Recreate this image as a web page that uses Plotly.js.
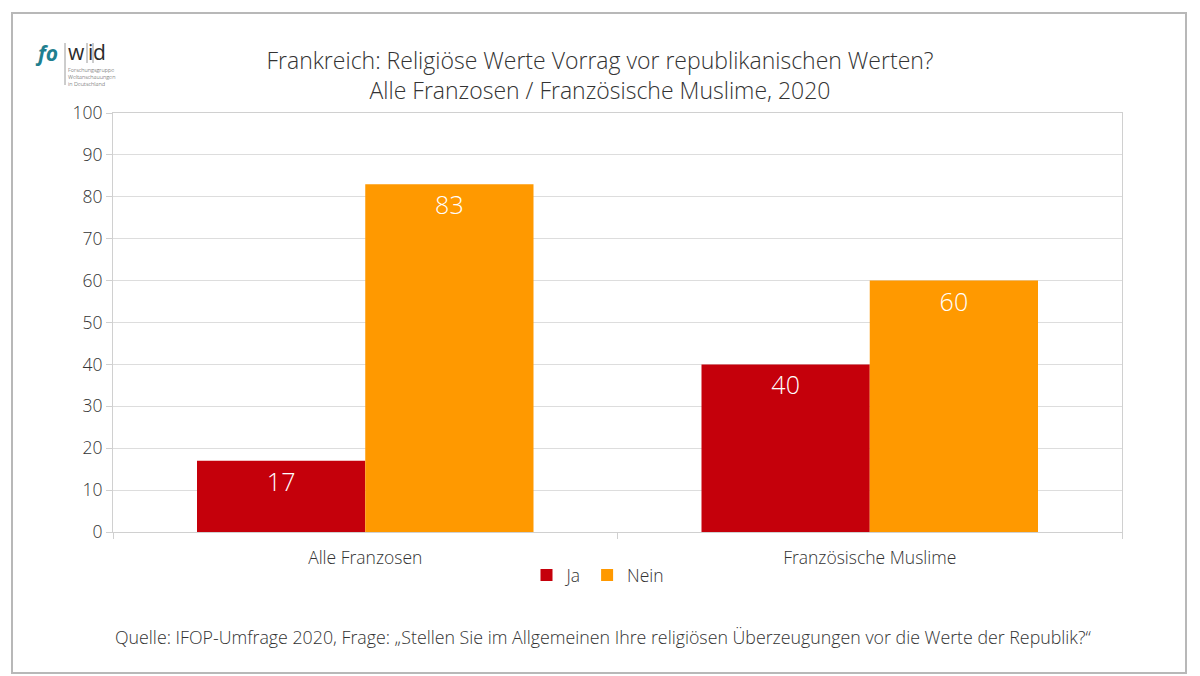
<!DOCTYPE html>
<html>
<head>
<meta charset="utf-8">
<script src="https://cdn.plot.ly/plotly-3.0.1.min.js"></script>
<style>
  body { margin: 0; background: #ffffff; }
  #chart { width: 1200px; height: 676px; }
</style>
</head>
<body>
<div id="chart"></div>
<script>
// chart values
const categories = ["Alle Franzosen", "Französische Muslime"];
const jaValues = [17, 40];
const neinValues = [83, 60];
const yTicks = [0, 10, 20, 30, 40, 50, 60, 70, 80, 90, 100];

const titleLines = [
  "Frankreich: Religiöse Werte Vorrag vor republikanischen Werten?",
  "Alle Franzosen / Französische Muslime, 2020"
];
const sourceText = "Quelle: IFOP-Umfrage 2020, Frage: „Stellen Sie im Allgemeinen Ihre religiösen Überzeugungen vor die Werte der Republik?“";

document.addEventListener('DOMContentLoaded', function(event)
{
  displayPlot("chart");
});

// pixel position -> paper position (plot area 113..1122 x, 113..532 y)
function px(x) { return (x - 113) / 1009; }
function py(y) { return (532 - y) / 419; }

function displayPlot(divPlot)
{
  const FONT = "Open Sans, sans-serif";
  const textColor = "#333333";

  let jaPlot = {
    name: "Ja",
    x: categories,
    y: jaValues,
    type: "bar",
    marker: { color: "#c5000b" },
    text: jaValues.map(String),
    textposition: "inside",
    insidetextanchor: "end",
    textfont: { family: FONT, weight: 300, size: 25, color: "#ffffff" },
    hoverinfo: "y"
  };

  let neinPlot = {
    name: "Nein",
    x: categories,
    y: neinValues,
    type: "bar",
    marker: { color: "#ff9900" },
    text: neinValues.map(String),
    textposition: "inside",
    insidetextanchor: "end",
    textfont: { family: FONT, weight: 300, size: 25, color: "#ffffff" },
    hoverinfo: "y"
  };

  let layout =
  {
    width: 1200,
    height: 676,
    margin: { l: 113, r: 78, t: 113, b: 144 },
    paper_bgcolor: "#ffffff",
    plot_bgcolor: "#ffffff",
    font: { family: FONT, weight: 300, color: textColor },
    showlegend: true,
    barmode: "group",
    bargap: 0.333,
    bargroupgap: 0,

    title:
    {
      text: titleLines.join("<br>"),
      font: { family: FONT, weight: 300, size: 23, color: textColor },
      x: 0.5,
      xanchor: "center",
      y: 1 - 69 / 676,
      yanchor: "middle"
    },

    xaxis:
    {
      type: "category",
      tickson: "boundaries",
      ticks: "outside",
      ticklen: 6,
      tickcolor: "#d0d0d0",
      ticklabelstandoff: 10,
      showline: true,
      linecolor: "#d0d0d0",
      linewidth: 1,
      mirror: true,
      showgrid: false,
      tickfont: { family: FONT, weight: 300, size: 17.5, color: textColor },
      fixedrange: true
    },
    yaxis:
    {
      range: [0, 100],
      autorange: false,
      tickvals: yTicks,
      ticktext: yTicks.map(String),
      ticks: "outside",
      ticklen: 6,
      tickcolor: "#d0d0d0",
      showline: true,
      linecolor: "#d0d0d0",
      linewidth: 1,
      mirror: true,
      gridcolor: "#dddddd",
      zeroline: false,
      tickfont: { family: FONT, weight: 300, size: 17.5, color: textColor },
      fixedrange: true
    },

    legend:
    {
      orientation: "h",
      x: px(598),
      xanchor: "center",
      y: py(575),
      yanchor: "middle",
      font: { family: FONT, weight: 300, size: 17.5, color: textColor },
      itemwidth: 30,
      tracegroupgap: 0
    },

    shapes:
    [
      // outer frame
      { type: "rect", xref: "paper", yref: "paper",
        x0: px(12), x1: px(1186), y0: py(673), y1: py(13),
        line: { color: "#b8b8b8", width: 2 } },
      // logo lines
      { type: "line", xref: "paper", yref: "paper",
        x0: px(65), x1: px(65), y0: py(85), y1: py(43),
        line: { color: "#9a9a9a", width: 1 } },
      { type: "line", xref: "paper", yref: "paper",
        x0: px(87), x1: px(87), y0: py(63), y1: py(43),
        line: { color: "#9a9a9a", width: 1 } },
      { type: "line", xref: "paper", yref: "paper",
        x0: px(93), x1: px(93), y0: py(63), y1: py(43),
        line: { color: "#9a9a9a", width: 1 } }
    ],

    annotations:
    [
      { xref: "paper", yref: "paper", x: px(603), y: py(637),
        xanchor: "center", yanchor: "middle", showarrow: false,
        text: sourceText,
        font: { family: FONT, weight: 300, size: 17.8, color: textColor } },
      // logo
      { xref: "paper", yref: "paper", x: px(33), y: py(53),
        xanchor: "left", yanchor: "middle", showarrow: false,
        text: "<i><b>fo</b></i>",
        font: { family: FONT, size: 21, color: "#1f7f8f" } },
      { xref: "paper", yref: "paper", x: px(76), y: py(52),
        xanchor: "center", yanchor: "middle", showarrow: false,
        text: "w",
        font: { family: FONT, weight: 500, size: 21, color: "#2b2b2b" } },
      { xref: "paper", yref: "paper", x: px(90), y: py(52),
        xanchor: "center", yanchor: "middle", showarrow: false,
        text: "i",
        font: { family: FONT, weight: 500, size: 21, color: "#2b2b2b" } },
      { xref: "paper", yref: "paper", x: px(99), y: py(52),
        xanchor: "center", yanchor: "middle", showarrow: false,
        text: "d",
        font: { family: FONT, weight: 500, size: 21, color: "#2b2b2b" } },
      { xref: "paper", yref: "paper", x: px(66), y: py(77),
        xanchor: "left", yanchor: "middle", showarrow: false, align: "left",
        text: "Forschungsgruppe<br>Weltanschauungen<br>in Deutschland",
        font: { family: FONT, size: 5.5, color: "#444444" } }
    ],
    hovermode: "closest"
  };

  let plotData = [];
  plotData.push(jaPlot);
  plotData.push(neinPlot);

  Plotly.newPlot(divPlot, plotData, layout, { displayModeBar: false, staticPlot: true });
}
</script>
</body>
</html>
